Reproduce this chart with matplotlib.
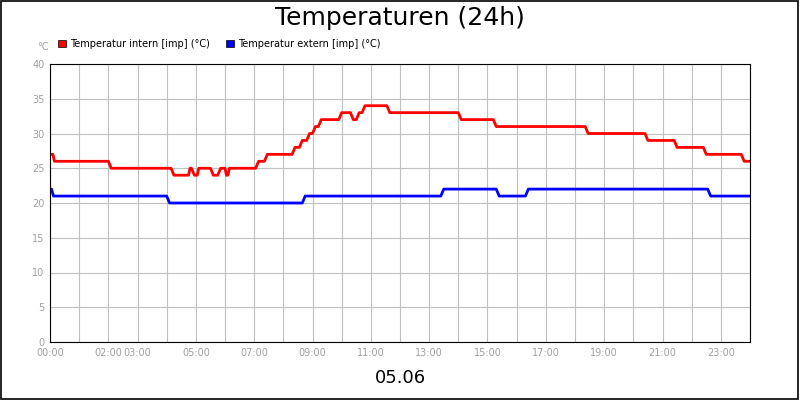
import matplotlib
matplotlib.use("Agg")
import matplotlib.pyplot as plt
from matplotlib.patches import Rectangle

# data: (hour, value) vertices
red_t = [0, 0.1, 0.15, 2.0, 2.1, 4.15, 4.25, 4.75, 4.8, 4.85, 4.95, 5.05, 5.1, 5.5, 5.6, 5.75, 5.85, 6.0, 6.05, 6.1, 6.15,
         7.05, 7.15, 7.35, 7.45, 8.3, 8.4, 8.55, 8.65, 8.8, 8.9, 9.0, 9.1, 9.2, 9.3, 9.9, 10.0, 10.3, 10.4, 10.5, 10.6,
         10.7, 10.8, 11.55, 11.65, 14.0, 14.1, 15.2, 15.3, 18.35, 18.45, 20.4, 20.5, 21.4, 21.5, 22.4, 22.5, 23.7, 23.8, 24]
red_v = [27, 27, 26, 26, 25, 25, 24, 24, 25, 25, 24, 24, 25, 25, 24, 24, 25, 25, 24, 24, 25,
         25, 26, 26, 27, 27, 28, 28, 29, 29, 30, 30, 31, 31, 32, 32, 33, 33, 32, 32, 33,
         33, 34, 34, 33, 33, 32, 32, 31, 31, 30, 30, 29, 29, 28, 28, 27, 27, 26, 26]
blue_t = [0, 0.05, 0.12, 4.0, 4.1, 8.65, 8.75, 13.4, 13.5, 15.3, 15.4, 16.3, 16.4, 22.55, 22.65, 24]
blue_v = [22, 22, 21, 21, 20, 20, 21, 21, 22, 22, 21, 21, 22, 22, 21, 21]
tick_hours = [0, 2, 3, 5, 7, 9, 11, 13, 15, 17, 19, 21, 23]
tick_labels = ["00:00", "02:00", "03:00", "05:00", "07:00", "09:00", "11:00", "13:00", "15:00", "17:00", "19:00", "21:00", "23:00"]

fig = plt.figure(figsize=(8, 4), dpi=100)
fig.patches.append(Rectangle((0.001, 0.002), 0.997, 0.996, transform=fig.transFigure,
                             fill=False, edgecolor="black", lw=1.2))
ax = fig.add_axes([0.0625, 0.145, 0.875, 0.695])
ax.plot(red_t, red_v, color="#ff0000", lw=2)
ax.plot(blue_t, blue_v, color="#0000ff", lw=2)
ax.set_xlim(0, 24)
ax.set_ylim(0, 40)
ax.set_yticks(range(0, 41, 5))
ax.set_xticks(range(0, 25), minor=True)
ax.set_xticks(tick_hours)
ax.set_xticklabels(tick_labels)
ax.grid(True, which="both", color="#c0c0c0", lw=0.8)
ax.set_axisbelow(True)
ax.tick_params(which="both", length=0, labelsize=7, labelcolor="#a0a0a0", pad=4)
for s in ax.spines.values():
    s.set_color("black")
fig.text(0.5, 0.955, "Temperaturen (24h)", ha="center", va="center", fontsize=18)
fig.text(0.5, 0.055, "05.06", ha="center", va="center", fontsize=13)
fig.text(0.053, 0.882, "°C", ha="center", va="center", fontsize=7, color="#a0a0a0")
fig.patches.append(Rectangle((0.073, 0.882), 0.009, 0.018, transform=fig.transFigure, color="#ff0000", ec="black", lw=0.5))
fig.text(0.087, 0.891, "Temperatur intern [imp] (°C)", va="center", fontsize=7)
fig.patches.append(Rectangle((0.283, 0.882), 0.009, 0.018, transform=fig.transFigure, color="#0000ff", ec="black", lw=0.5))
fig.text(0.297, 0.891, "Temperatur extern [imp] (°C)", va="center", fontsize=7)
fig.savefig("out.png", dpi=100)
